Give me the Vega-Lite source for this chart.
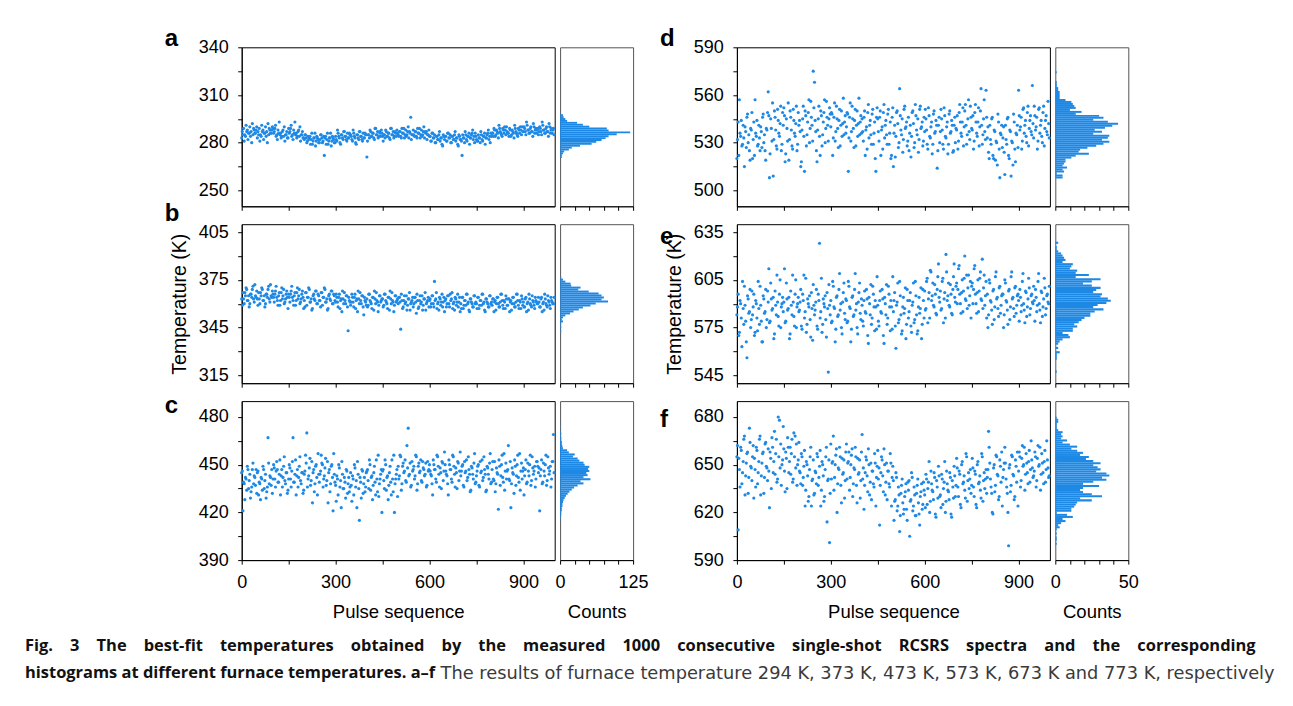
{
"$schema":"https://vega.github.io/schema/vega-lite/v6.json",
"autosize":{"type":"none"},
"padding":{"left":241.7,"top":47.3,"right":1051.3,"bottom":658.7},
"background":"#ffffff",
"datasets":{
"pts":[{
"x":[0,4,8,12,16,20,24,28,32,36,40,44,48,52,56,60,64,68,72,76,80,84,88,92,96,100,104,108,112,116,120,124,128,132,136,140,144,148,152,156,160,164,168,172,176,180,184,188,192,196,200,204,208,212,216,220,224,228,232,236,240,244,248,252,256,260,264,268,272,276,280,284,288,292,296,300,304,308,312,316,320,324,328,332,336,340,344,348,352,356,360,364,368,372,376,380,384,388,392,396,400,404,408,412,416,420,424,428,432,436,440,444,448,452,456,460,464,468,472,476,480,484,488,492,496,500,504,508,512,516,520,524,528,532,536,540,544,548,552,556,560,564,568,572,576,580,584,588,592,596,600,604,608,612,616,620,624,628,632,636,640,644,648,652,656,660,664,668,672,676,680,684,688,692,696,700,704,708,712,716,720,724,728,732,736,740,744,748,752,756,760,764,768,772,776,780,784,788,792,796,800,804,808,812,816,820,824,828,832,836,840,844,848,852,856,860,864,868,872,876,880,884,888,892,896,900,904,908,912,916,920,924,928,932,936,940,944,948,952,956,960,964,968,972,976,980,984,988,992,996,2,6,10,14,18,22,26,30,34,38,42,46,50,54,58,62,66,70,74,78,82,86,90,94,98,102,106,110,114,118,122,126,130,134,138,142,146,150,154,158,162,166,170,174,178,182,186,190,194,198,202,206,210,214,218,222,226,230,234,238,242,246,250,254,258,262,266,270,274,278,282,286,290,294,298,302,306,310,314,318,322,326,330,334,338,342,346,350,354,358,362,366,370,374,378,382,386,390,394,398,402,406,410,414,418,422,426,430,434,438,442,446,450,454,458,462,466,470,474,478,482,486,490,494,498,502,506,510,514,518,522,526,530,534,538,542,546,550,554,558,562,566,570,574,578,582,586,590,594,598,602,606,610,614,618,622,626,630,634,638,642,646,650,654,658,662,666,670,674,678,682,686,690,694,698,702,706,710,714,718,722,726,730,734,738,742,746,750,754,758,762,766,770,774,778,782,786,790,794,798,802,806,810,814,818,822,826,830,834,838,842,846,850,854,858,862,866,870,874,878,882,886,890,894,898,902,906,910,914,918,922,926,930,934,938,942,946,950,954,958,962,966,970,974,978,982,986,990,994,998],
"a":[283,285,281,284,287,282,286,284,280,285,288,286,290,287,289,285,291,288,286,290,287,292,289,286,288,289,287,291,285,288,293,286,284,288,290,285,287,283,286,289,284,282,286,285,283,287,284,281,285,283,282,285,280,284,283,279,286,281,283,278,284,282,280,285,283,281,272,284,282,279,283,286,281,283,280,284,281,286,283,279,285,282,287,284,281,283,286,285,282,288,284,280,285,283,287,284,282,286,283,285,271,285,283,287,284,286,282,289,285,283,287,284,286,281,285,288,284,286,283,289,285,287,284,286,288,285,287,284,289,286,283,288,285,290,287,296,285,288,284,287,283,286,289,285,284,287,283,286,282,285,284,281,286,283,285,280,284,282,287,283,279,285,282,284,281,286,283,280,284,282,285,281,283,278,284,282,272,283,280,285,281,284,279,283,286,282,280,284,281,285,283,287,282,284,286,283,285,288,284,286,286,284,288,285,287,283,289,286,284,288,290,285,287,286,289,284,288,286,291,287,285,289,286,288,290,287,289,285,291,288,286,290,287,292,286,289,288,285,290,287,293,288,286,289,287,284,290,288,286,289,
287,289,285,291,288,286,290,287,292,289,286,288,283,285,281,284,287,282,286,284,280,285,288,286,290,286,289,284,282,286,285,283,287,284,281,285,283,289,287,291,285,288,293,286,284,288,290,285,287,283,285,283,281,282,284,282,279,283,286,281,283,280,282,285,280,284,283,279,286,281,283,278,284,282,280,282,288,284,280,285,283,287,284,282,286,283,285,284,281,286,283,279,285,282,287,284,281,283,286,285,281,285,288,284,286,283,289,285,287,284,286,288,284,285,283,287,284,286,282,289,285,283,287,284,286,284,287,283,286,289,285,284,287,283,286,282,285,285,287,284,289,286,283,288,285,290,287,287,285,288,284,281,286,283,280,284,282,285,281,283,278,284,284,281,286,283,285,280,284,282,287,283,279,285,282,281,285,283,287,282,284,286,283,285,288,284,286,282,281,283,280,285,281,284,279,283,286,282,280,284,286,289,284,288,286,291,287,285,289,286,288,290,286,284,288,285,287,283,289,286,284,288,290,285,287,290,287,293,288,286,289,287,284,290,288,286,289,287,289,285,291,288,286,290,287,292,286,289,288,285],
"b":[363,367,360,365,369,362,358,366,364,371,361,365,368,359,363,367,370,362,365,360,366,369,363,372,364,366,361,368,364,359,367,362,370,365,360,363,368,357,364,366,371,362,365,359,367,363,369,361,366,364,362,367,359,364,369,361,356,365,363,368,360,366,362,358,367,364,370,361,363,357,366,362,368,360,365,361,364,358,366,362,355,363,367,360,365,343,362,359,366,361,364,357,363,368,360,362,365,358,364,361,363,359,366,361,357,364,368,360,362,355,365,361,363,358,366,362,360,364,356,363,367,361,359,365,362,360,364,344,362,358,365,361,356,363,367,360,362,358,364,361,366,357,362,360,365,359,363,356,361,364,362,358,365,360,374,363,357,361,364,359,366,361,355,363,360,365,358,362,367,360,356,363,361,358,364,360,364,357,362,359,366,361,355,363,360,358,365,361,357,364,359,362,366,360,356,363,361,358,365,360,359,363,361,356,364,360,358,366,362,357,361,365,359,363,355,362,360,364,358,361,366,359,362,357,363,361,358,364,360,356,363,359,365,361,357,362,360,364,358,363,355,361,366,360,358,362,359,364,361,360,
359,363,367,370,362,365,360,366,369,363,372,364,363,367,360,365,369,362,358,366,364,371,361,365,368,364,366,371,362,365,359,367,363,369,361,366,364,366,361,368,364,359,367,362,370,365,360,363,368,357,358,367,364,370,361,363,357,366,362,368,360,365,362,367,359,364,369,361,356,365,363,368,360,366,362,366,361,364,357,363,368,360,362,365,358,364,361,361,364,358,366,362,355,363,367,360,365,353,362,359,358,366,362,360,364,356,363,367,361,359,365,362,363,359,366,361,357,364,368,360,362,355,365,361,363,364,361,366,357,362,360,365,359,363,356,361,364,360,364,354,362,358,365,361,356,363,367,360,362,358,363,360,365,358,362,367,360,356,363,361,358,364,362,358,365,360,366,363,357,361,364,359,366,361,355,357,364,359,362,366,360,356,363,361,358,365,360,360,364,357,362,359,366,361,355,363,360,358,365,361,363,355,362,360,364,358,361,366,359,362,357,363,359,363,361,356,364,360,358,366,362,357,361,365,359,358,363,355,361,366,360,358,362,359,364,361,360,361,358,364,360,356,363,359,365,361,357,362,360,364],
"c":[445,421,438,442,434,447,440,429,436,451,443,437,432,446,439,428,441,449,435,444,433,467,438,442,447,441,448,436,452,439,444,431,447,442,455,438,445,434,450,441,446,467,439,453,443,436,449,440,445,432,444,456,470,441,448,437,452,445,433,449,442,457,439,446,451,436,443,454,440,426,447,438,450,421,444,437,443,431,448,440,452,435,442,429,446,438,433,445,427,441,450,436,423,444,415,439,447,432,442,436,446,440,453,434,443,437,449,431,441,456,438,444,420,447,435,450,442,428,445,439,453,433,420,441,447,449,443,455,438,451,446,440,462,473,444,436,452,447,441,456,434,449,445,453,439,448,443,451,437,446,450,444,438,453,447,441,456,449,436,445,452,440,458,446,443,431,450,447,439,455,444,448,435,451,446,443,449,437,452,446,440,455,444,434,448,441,457,439,446,450,436,445,453,442,447,433,449,444,451,438,447,441,452,438,445,422,449,443,456,439,434,451,446,462,440,423,448,444,453,437,450,442,457,446,441,448,443,453,439,446,450,437,455,444,449,441,452,445,421,447,438,451,443,456,440,448,446,436,452,469,
446,439,428,441,449,435,444,433,447,438,442,447,445,431,438,442,434,447,440,429,436,451,443,437,432,450,441,446,447,439,453,443,436,449,440,445,432,441,448,436,452,439,444,431,447,442,455,438,445,434,446,451,436,443,454,440,426,447,438,450,431,444,444,456,450,441,448,437,452,445,433,449,442,457,439,427,441,450,436,423,444,435,439,447,432,442,436,437,443,431,448,440,452,435,442,429,446,438,433,445,447,435,450,442,428,445,439,453,433,430,441,447,446,440,453,434,443,437,449,431,441,456,438,444,430,441,456,434,449,445,453,439,448,443,451,437,446,449,443,455,438,451,446,440,452,447,444,436,452,447,446,443,431,450,447,439,455,444,448,435,451,446,450,444,438,453,447,441,456,449,436,445,452,440,458,446,450,436,445,453,442,447,433,449,444,451,438,443,449,437,452,446,440,455,444,434,448,441,457,439,452,440,433,448,444,453,437,450,442,457,446,441,447,441,452,438,445,432,449,443,456,439,434,451,446,431,447,438,451,443,456,440,448,446,436,452,449,448,443,453,439,446,450,437,455,444,449,441,452,445],
"d":[520,543,557,534,528,541,515,537,546,530,525,539,549,532,522,536,544,529,533,540,527,548,535,519,538,562,508,545,531,509,550,538,526,544,534,553,529,541,547,523,539,555,532,546,528,551,536,542,525,549,544,515,538,553,512,547,535,549,530,556,541,575,568,537,518,545,534,550,528,543,557,539,546,531,552,540,548,533,555,537,545,527,551,541,534,558,543,536,549,512,546,531,553,539,544,528,550,542,535,547,545,531,550,538,526,554,541,535,548,529,543,512,552,537,546,522,540,549,533,544,529,551,536,520,546,515,541,534,550,527,564,538,545,532,553,540,528,546,536,521,549,542,530,547,535,524,551,539,543,531,537,545,529,552,534,540,523,548,536,544,514,541,530,551,538,526,547,533,543,529,550,537,541,525,546,539,547,531,554,536,543,528,550,541,535,557,532,546,538,526,549,543,534,552,540,564,529,545,537,563,533,524,541,529,546,520,537,531,516,543,508,535,527,540,510,532,545,522,538,509,530,548,526,536,541,563,538,546,531,552,541,534,549,528,544,537,566,533,547,540,526,551,536,544,530,553,539,547,535,542,
532,522,536,544,529,533,540,527,548,535,519,538,520,543,557,534,528,541,525,537,546,530,525,539,549,547,523,539,555,532,546,528,551,536,542,525,549,552,518,545,531,519,550,538,526,544,534,553,529,541,537,518,545,534,550,528,543,557,539,546,531,552,544,525,538,553,522,547,535,549,530,556,541,545,548,549,522,546,531,553,539,544,528,550,542,535,547,540,548,533,555,537,545,527,551,541,534,558,543,536,537,546,522,540,549,533,544,529,551,536,520,546,545,531,550,538,526,554,541,535,548,529,543,522,552,536,521,549,542,530,547,535,524,551,539,543,531,525,541,534,550,527,554,538,545,532,553,540,528,546,551,538,526,547,533,543,529,550,537,541,525,546,537,545,529,552,534,540,523,548,536,544,524,541,530,538,526,549,543,534,552,540,554,529,545,537,553,539,547,531,554,536,543,528,550,541,535,557,532,546,540,520,532,545,522,538,519,530,548,526,536,541,533,524,541,529,546,520,537,531,516,543,518,535,527,547,540,526,551,536,544,530,553,539,547,535,542,553,538,546,531,552,541,534,549,528,544,537,556,533],
"e":[583,596,572,590,563,587,601,579,556,593,585,575,598,588,570,592,581,604,577,589,566,595,584,599,580,591,578,603,586,594,571,589,608,582,596,575,590,585,612,579,593,587,568,598,583,591,576,605,588,594,586,599,574,592,581,606,577,590,595,569,587,602,583,591,576,596,628,585,572,593,588,580,597,547,589,592,579,601,587,574,595,583,609,590,571,597,584,593,578,604,588,566,594,582,599,586,575,591,603,580,589,576,598,584,593,565,590,602,581,596,573,588,607,579,592,585,599,570,594,583,577,601,588,592,574,585,597,562,591,578,604,583,573,594,587,568,599,581,592,576,589,603,580,595,571,588,584,600,577,592,598,587,606,593,581,610,595,589,602,584,599,615,591,586,604,578,597,621,592,603,588,596,583,607,594,601,590,612,596,584,605,598,620,592,587,608,595,581,603,599,614,590,597,585,606,593,618,600,589,604,596,583,603,591,577,599,588,610,594,582,601,589,596,575,605,592,586,598,580,607,593,587,600,584,595,592,599,585,604,590,578,597,588,606,583,595,591,601,579,594,589,609,586,598,582,593,600,587,596,590,
588,570,592,581,604,577,589,566,595,584,599,580,583,596,572,590,573,587,601,579,566,593,585,575,598,612,579,593,587,568,598,583,591,576,605,588,594,591,578,603,586,594,571,589,608,582,596,575,590,585,591,576,596,608,585,572,593,588,580,597,567,589,586,599,574,592,581,606,577,590,595,569,587,602,583,578,604,588,566,594,582,599,586,575,591,603,580,592,579,601,587,574,595,583,609,590,571,597,584,593,579,592,585,599,570,594,583,577,601,588,592,574,589,576,598,584,593,565,590,602,581,596,573,588,607,592,576,589,603,580,595,571,588,584,600,577,592,585,597,572,591,578,604,583,573,594,587,568,599,581,586,604,578,597,611,592,603,588,596,583,607,594,598,587,606,593,581,610,595,589,602,584,599,615,591,603,599,614,590,597,585,606,593,608,600,589,604,601,590,612,596,584,605,598,610,592,587,608,595,581,575,605,592,586,598,580,607,593,587,600,584,595,596,583,603,591,577,599,588,610,594,582,601,589,596,579,594,589,609,586,598,582,593,600,587,596,590,592,599,585,604,590,578,597,588,606,583,595,591,601],
"f":[655,609,647,661,638,652,668,643,657,632,673,649,640,662,654,636,659,645,666,631,651,658,642,664,648,660,623,654,667,645,671,657,639,680,678,663,650,674,646,658,635,661,652,644,666,641,655,648,637,653,646,638,655,642,659,634,650,627,647,661,640,653,632,645,657,637,649,624,652,643,630,655,614,641,601,663,651,668,642,656,620,648,661,637,654,645,629,658,641,652,634,650,660,638,647,655,626,644,653,640,669,648,637,655,643,660,631,651,646,638,657,624,649,641,612,645,653,633,650,639,628,646,636,651,642,640,627,645,621,636,608,632,641,619,630,638,615,634,605,628,642,624,631,618,637,626,612,633,622,639,631,644,625,639,620,646,634,628,642,617,636,649,630,623,641,635,652,627,638,633,645,619,640,629,643,637,648,630,644,623,652,639,634,657,627,645,641,632,654,636,646,625,650,638,643,629,655,640,635,647,642,671,651,636,620,648,633,656,644,628,653,639,624,647,661,641,632,599,650,637,655,643,630,649,658,646,655,640,662,650,634,657,645,652,639,665,648,643,658,636,654,649,661,644,651,638,659,647,653,642,
662,654,636,659,645,666,631,651,658,642,664,648,655,629,647,661,638,652,668,643,657,632,663,649,640,646,658,635,661,652,644,666,641,655,648,637,653,660,633,654,667,645,661,657,639,670,668,663,650,664,645,657,637,649,624,652,643,630,655,624,641,631,646,638,655,642,659,634,650,627,647,661,640,653,632,641,652,634,650,660,638,647,655,626,644,653,640,663,651,658,642,656,630,648,661,637,654,645,629,658,641,622,645,653,633,650,639,628,646,636,651,642,659,648,637,655,643,660,631,651,646,638,657,624,649,615,628,642,624,631,618,637,626,622,633,622,639,640,627,645,621,636,618,632,641,619,630,638,625,634,623,641,635,652,627,638,633,645,619,640,629,643,631,644,625,639,620,646,634,628,642,617,636,649,630,654,636,646,625,650,638,643,629,655,640,635,647,637,648,630,644,623,652,639,634,657,627,645,641,632,647,661,641,632,619,650,637,655,643,630,649,658,642,651,651,636,620,648,633,656,644,628,653,639,624,658,636,654,649,661,644,651,638,659,647,653,642,646,655,640,662,650,634,657,645,652,639,665,648,643]
}],
"hist":[
{"p":"a","t1":[297.9,296.7,295.5,294.3,293.1,291.9,290.7,289.5,288.3,287.1,285.9,284.7,283.5,282.3,281.1,279.9,278.7,277.5,276.3,275.1,273.9,272.7,271.5],"t0":[296.7,295.5,294.3,293.1,291.9,290.7,289.5,288.3,287.1,285.9,284.7,283.5,282.3,281.1,279.9,278.7,277.5,276.3,275.1,273.9,272.7,271.5,270.3],"n":[5,6,9,12,29,39,50,80,83,120,97,83,78,71,62,54,34,20,15,7,5,3,3]},
{"p":"b","t1":[377,375.75,374.5,373.25,372,370.75,369.5,368.25,367,365.75,364.5,363.25,362,360.75,359.5,358.25,357,355.75,354.5,353.25,352,350.75,349.5,348.25,347,345.75,344.5,343.25],"t0":[375.75,374.5,373.25,372,370.75,369.5,368.25,367,365.75,364.5,363.25,362,360.75,359.5,358.25,357,355.75,354.5,353.25,352,350.75,349.5,348.25,347,345.75,344.5,343.25,342],"n":[2,5,9,18,19,35,31,49,66,71,75,71,82,61,52,39,32,23,17,9,5,3,5,2,1,2,0,2]},
{"p":"c","t1":[474,472.7,471.4,470.1,468.8,467.5,466.2,464.9,463.6,462.3,461,459.7,458.4,457.1,455.8,454.5,453.2,451.9,450.6,449.3,448,446.7,445.4,444.1,442.8,441.5,440.2,438.9,437.6,436.3,435,433.7,432.4,431.1,429.8,428.5,427.2,425.9,424.6,423.3,422,420.7,419.4,418.1,416.8],"t0":[472.7,471.4,470.1,468.8,467.5,466.2,464.9,463.6,462.3,461,459.7,458.4,457.1,455.8,454.5,453.2,451.9,450.6,449.3,448,446.7,445.4,444.1,442.8,441.5,440.2,438.9,437.6,436.3,435,433.7,432.4,431.1,429.8,428.5,427.2,425.9,424.6,423.3,422,420.7,419.4,418.1,416.8,415.5],"n":[1,0,1,2,1,2,2,3,3,4,5,12,15,25,22,30,33,40,42,50,48,50,45,47,40,52,35,40,30,24,20,16,13,10,8,6,5,4,4,3,3,2,2,1,1]},
{"p":"d","t1":[575,573.75,572.5,571.25,570,568.75,567.5,566.25,565,563.75,562.5,561.25,560,558.75,557.5,556.25,555,553.75,552.5,551.25,550,548.75,547.5,546.25,545,543.75,542.5,541.25,540,538.75,537.5,536.25,535,533.75,532.5,531.25,530,528.75,527.5,526.25,525,523.75,522.5,521.25,520,518.75,517.5,516.25,515,513.75,512.5,511.25,510,508.75],"t0":[573.75,572.5,571.25,570,568.75,567.5,566.25,565,563.75,562.5,561.25,560,558.75,557.5,556.25,555,553.75,552.5,551.25,550,548.75,547.5,546.25,545,543.75,542.5,541.25,540,538.75,537.5,536.25,535,533.75,532.5,531.25,530,528.75,527.5,526.25,525,523.75,522.5,521.25,520,518.75,517.5,516.25,515,513.75,512.5,511.25,510,508.75,507.5],"n":[1,0,0,0,0,1,1,1,2,2,3,3,3,3,7,11,12,13,14,10,18,14,30,33,26,36,43,39,34,27,32,26,37,36,32,37,33,28,22,17,16,23,14,11,7,7,6,5,8,5,6,1,5,5]},
{"p":"e","t1":[629,627.65,626.3,624.95,623.6,622.25,620.9,619.55,618.2,616.85,615.5,614.15,612.8,611.45,610.1,608.75,607.4,606.05,604.7,603.35,602,600.65,599.3,597.95,596.6,595.25,593.9,592.55,591.2,589.85,588.5,587.15,585.8,584.45,583.1,581.75,580.4,579.05,577.7,576.35,575,573.65,572.3,570.95,569.6,568.25,566.9,565.55,564.2,562.85,561.5,560.15,558.8,557.45,556.1,554.75,553.4,552.05,550.7,549.35,548],"t0":[627.65,626.3,624.95,623.6,622.25,620.9,619.55,618.2,616.85,615.5,614.15,612.8,611.45,610.1,608.75,607.4,606.05,604.7,603.35,602,600.65,599.3,597.95,596.6,595.25,593.9,592.55,591.2,589.85,588.5,587.15,585.8,584.45,583.1,581.75,580.4,579.05,577.7,576.35,575,573.65,572.3,570.95,569.6,568.25,566.9,565.55,564.2,562.85,561.5,560.15,558.8,557.45,556.1,554.75,553.4,552.05,550.7,549.35,548,546.65],"n":[2,0,1,1,2,4,5,6,7,5,12,11,10,15,14,23,14,31,25,19,25,31,28,26,32,31,36,38,35,29,26,33,27,24,24,20,18,16,13,15,12,12,5,9,10,5,3,2,0,2,0,3,1,1,1,0,0,0,0,0,1]},
{"p":"f","t1":[680.2,678.9,677.6,676.3,675,673.7,672.4,671.1,669.8,668.5,667.2,665.9,664.6,663.3,662,660.7,659.4,658.1,656.8,655.5,654.2,652.9,651.6,650.3,649,647.7,646.4,645.1,643.8,642.5,641.2,639.9,638.6,637.3,636,634.7,633.4,632.1,630.8,629.5,628.2,626.9,625.6,624.3,623,621.7,620.4,619.1,617.8,616.5,615.2,613.9,612.6,611.3,610,608.7,607.4,606.1,604.8,603.5,602.2,600.9],"t0":[678.9,677.6,676.3,675,673.7,672.4,671.1,669.8,668.5,667.2,665.9,664.6,663.3,662,660.7,659.4,658.1,656.8,655.5,654.2,652.9,651.6,650.3,649,647.7,646.4,645.1,643.8,642.5,641.2,639.9,638.6,637.3,636,634.7,633.4,632.1,630.8,629.5,628.2,626.9,625.6,624.3,623,621.7,620.4,619.1,617.8,616.5,615.2,613.9,612.6,611.3,610,608.7,607.4,606.1,604.8,603.5,602.2,600.9,599.6],"n":[1,2,2,1,1,1,2,5,4,5,4,8,5,10,15,11,15,19,17,23,21,26,31,26,29,31,28,35,37,32,35,26,19,30,19,17,19,25,32,17,25,15,14,13,11,11,1,8,12,5,7,4,2,3,1,0,1,0,1,1,0,1]}
]
},
"columns":5,
"spacing":{"row":17.9,"column":5.4},
"bounds":"flush",
"concat":[
{"width":313,"height":159,"data":{"name":"pts"},"transform":[{"flatten":["x","a","b","c","d","e","f"]}],
 "title":{"text":"a","anchor":"start","frame":"group","dx":-77,"offset":-32.1,"fontSize":24,"fontWeight":"bold","baseline":"alphabetic","font":"Liberation Sans","color":"#000"},
 "mark":{"type":"circle","size":10,"opacity":1,"color":"#1e88e5"},
 "encoding":{"x":{"field":"x","type":"quantitative","scale":{"domain":[0,1000],"nice":false},"axis":{"values":[0,150,300,450,600,750,900],"labels":false,"title":null}},
  "y":{"field":"a","type":"quantitative","scale":{"domain":[240,340],"nice":false,"zero":false},"axis":{"values":[250,265,280,295,310,325,340],"labelExpr":"datum.value % 30 == 10 ? datum.label : ''","title":null}}}},
{"width":73,"height":159,"data":{"name":"hist"},"transform":[{"filter":"datum.p == 'a'"},{"flatten":["t1","t0","n"]}],"view":{"stroke":"#555"},
 "mark":{"type":"rect","color":"#1e88e5"},
 "encoding":{"y":{"field":"t1","type":"quantitative","scale":{"domain":[240,340],"nice":false,"zero":false},"axis":null},"y2":{"field":"t0"},
  "x":{"field":"n","type":"quantitative","scale":{"domain":[0,125],"nice":false},"axis":{"values":[0,25,50,75,100,125],"labels":false,"title":null}},"x2":{"datum":0}}},
{"width":92.8,"height":159,"data":{"values":[{"k":1}]},"mark":{"type":"point","opacity":0},"view":{"stroke":null}},
{"width":313,"height":159,"data":{"name":"pts"},"transform":[{"flatten":["x","a","b","c","d","e","f"]}],
 "title":{"text":"d","anchor":"start","frame":"group","dx":-77,"offset":-31.7,"fontSize":24,"fontWeight":"bold","baseline":"alphabetic","font":"Liberation Sans","color":"#000"},
 "mark":{"type":"circle","size":10,"opacity":1,"color":"#1e88e5"},
 "encoding":{"x":{"field":"x","type":"quantitative","scale":{"domain":[0,1000],"nice":false},"axis":{"values":[0,150,300,450,600,750,900],"labels":false,"title":null}},
  "y":{"field":"d","type":"quantitative","scale":{"domain":[490,590],"nice":false,"zero":false},"axis":{"values":[500,515,530,545,560,575,590],"labelExpr":"datum.value % 30 == 20 ? datum.label : ''","title":null}}}},
{"width":73,"height":159,"data":{"name":"hist"},"transform":[{"filter":"datum.p == 'd'"},{"flatten":["t1","t0","n"]}],"view":{"stroke":"#555"},
 "mark":{"type":"rect","color":"#1e88e5"},
 "encoding":{"y":{"field":"t1","type":"quantitative","scale":{"domain":[490,590],"nice":false,"zero":false},"axis":null},"y2":{"field":"t0"},
  "x":{"field":"n","type":"quantitative","scale":{"domain":[0,50],"nice":false},"axis":{"values":[0,10,20,30,40,50],"labels":false,"title":null}},"x2":{"datum":0}}},
{"width":313,"height":159,"data":{"name":"pts"},"transform":[{"flatten":["x","a","b","c","d","e","f"]}],
 "title":{"text":"b","anchor":"start","frame":"group","dx":-77,"offset":-21.8,"fontSize":24,"fontWeight":"bold","baseline":"alphabetic","font":"Liberation Sans","color":"#000"},
 "mark":{"type":"circle","size":10,"opacity":1,"color":"#1e88e5"},
 "encoding":{"x":{"field":"x","type":"quantitative","scale":{"domain":[0,1000],"nice":false},"axis":{"values":[0,150,300,450,600,750,900],"labels":false,"title":null}},
  "y":{"field":"b","type":"quantitative","scale":{"domain":[310,410],"nice":false,"zero":false},"axis":{"values":[315,330,345,360,375,390,405],"labelExpr":"datum.value % 30 == 15 ? datum.label : ''","title":"Temperature (K)"}}}},
{"width":73,"height":159,"data":{"name":"hist"},"transform":[{"filter":"datum.p == 'b'"},{"flatten":["t1","t0","n"]}],"view":{"stroke":"#555"},
 "mark":{"type":"rect","color":"#1e88e5"},
 "encoding":{"y":{"field":"t1","type":"quantitative","scale":{"domain":[310,410],"nice":false,"zero":false},"axis":null},"y2":{"field":"t0"},
  "x":{"field":"n","type":"quantitative","scale":{"domain":[0,125],"nice":false},"axis":{"values":[0,25,50,75,100,125],"labels":false,"title":null}},"x2":{"datum":0}}},
{"width":92.8,"height":159,"data":{"values":[{"k":1}]},"mark":{"type":"point","opacity":0},"view":{"stroke":null}},
{"width":313,"height":159,"data":{"name":"pts"},"transform":[{"flatten":["x","a","b","c","d","e","f"]}],
 "title":{"text":"e","anchor":"start","frame":"group","dx":-77,"offset":-44.7,"fontSize":24,"fontWeight":"bold","baseline":"alphabetic","font":"Liberation Sans","color":"#000"},
 "mark":{"type":"circle","size":10,"opacity":1,"color":"#1e88e5"},
 "encoding":{"x":{"field":"x","type":"quantitative","scale":{"domain":[0,1000],"nice":false},"axis":{"values":[0,150,300,450,600,750,900],"labels":false,"title":null}},
  "y":{"field":"e","type":"quantitative","scale":{"domain":[540,640],"nice":false,"zero":false},"axis":{"values":[545,560,575,590,605,620,635],"labelExpr":"datum.value % 30 == 5 ? datum.label : ''","title":"Temperature (K)"}}}},
{"width":73,"height":159,"data":{"name":"hist"},"transform":[{"filter":"datum.p == 'e'"},{"flatten":["t1","t0","n"]}],"view":{"stroke":"#555"},
 "mark":{"type":"rect","color":"#1e88e5"},
 "encoding":{"y":{"field":"t1","type":"quantitative","scale":{"domain":[540,640],"nice":false,"zero":false},"axis":null},"y2":{"field":"t0"},
  "x":{"field":"n","type":"quantitative","scale":{"domain":[0,50],"nice":false},"axis":{"values":[0,10,20,30,40,50],"labels":false,"title":null}},"x2":{"datum":0}}},
{"width":313,"height":159,"data":{"name":"pts"},"transform":[{"flatten":["x","a","b","c","d","e","f"]}],
 "title":{"text":"c","anchor":"start","frame":"group","dx":-77,"offset":-36,"fontSize":24,"fontWeight":"bold","baseline":"alphabetic","font":"Liberation Sans","color":"#000"},
 "mark":{"type":"circle","size":10,"opacity":1,"color":"#1e88e5"},
 "encoding":{"x":{"field":"x","type":"quantitative","scale":{"domain":[0,1000],"nice":false},"axis":{"values":[0,150,300,450,600,750,900],"labelExpr":"datum.value % 300 == 0 ? datum.label : ''","title":"Pulse sequence"}},
  "y":{"field":"c","type":"quantitative","scale":{"domain":[390,490],"nice":false,"zero":false},"axis":{"values":[390,405,420,435,450,465,480],"labelExpr":"datum.value % 30 == 0 ? datum.label : ''","title":null}}}},
{"width":73,"height":159,"data":{"name":"hist"},"transform":[{"filter":"datum.p == 'c'"},{"flatten":["t1","t0","n"]}],"view":{"stroke":"#555"},
 "title":{"text":"The results of furnace temperature 294 K, 373 K, 473 K, 573 K, 673 K and 773 K, respectively","orient":"bottom","anchor":"start","frame":"group","dx":-119.5,"offset":44,"font":"DejaVu Sans","fontSize":17.8,"fontWeight":"normal","color":"#3a3a3a"},
 "mark":{"type":"rect","color":"#1e88e5"},
 "encoding":{"y":{"field":"t1","type":"quantitative","scale":{"domain":[390,490],"nice":false,"zero":false},"axis":null},"y2":{"field":"t0"},
  "x":{"field":"n","type":"quantitative","scale":{"domain":[0,125],"nice":false},"axis":{"values":[0,25,50,75,100,125],"labelExpr":"datum.value == 0 || datum.value == 125 ? datum.label : ''","title":"Counts"}},"x2":{"datum":0}}},
{"width":92.8,"height":159,"data":{"values":[{"k":1}]},"mark":{"type":"point","opacity":0},"view":{"stroke":null},
 "title":{"text":["Fig. \u00a0\u00a0\u00a03 \u00a0\u00a0\u00a0The \u00a0\u00a0\u00a0best-fit \u00a0\u00a0\u00a0temperatures \u00a0\u00a0\u00a0obtained \u00a0\u00a0\u00a0by \u00a0\u00a0\u00a0the \u00a0\u00a0\u00a0measured \u00a0\u00a0\u00a01000 \u00a0\u00a0\u00a0consecutive \u00a0\u00a0\u00a0single-shot \u00a0\u00a0\u00a0RCSRS \u00a0\u00a0\u00a0spectra \u00a0\u00a0\u00a0and \u00a0\u00a0\u00a0the \u00a0\u00a0\u00a0corresponding","histograms at different furnace temperatures. a–f"],"orient":"bottom","anchor":"start","frame":"group","dx":-613.5,"offset":78,"font":"Open Sans","fontSize":16.45,"fontWeight":"bold","color":"#111111","lineHeight":27}},
{"width":313,"height":159,"data":{"name":"pts"},"transform":[{"flatten":["x","a","b","c","d","e","f"]}],
 "title":{"text":"f","anchor":"start","frame":"group","dx":-77,"offset":-50,"fontSize":24,"fontWeight":"bold","baseline":"alphabetic","font":"Liberation Sans","color":"#000"},
 "mark":{"type":"circle","size":10,"opacity":1,"color":"#1e88e5"},
 "encoding":{"x":{"field":"x","type":"quantitative","scale":{"domain":[0,1000],"nice":false},"axis":{"values":[0,150,300,450,600,750,900],"labelExpr":"datum.value % 300 == 0 ? datum.label : ''","title":"Pulse sequence"}},
  "y":{"field":"f","type":"quantitative","scale":{"domain":[590,690],"nice":false,"zero":false},"axis":{"values":[590,605,620,635,650,665,680],"labelExpr":"datum.value % 30 == 20 ? datum.label : ''","title":null}}}},
{"width":73,"height":159,"data":{"name":"hist"},"transform":[{"filter":"datum.p == 'f'"},{"flatten":["t1","t0","n"]}],"view":{"stroke":"#555"},
 "mark":{"type":"rect","color":"#1e88e5"},
 "encoding":{"y":{"field":"t1","type":"quantitative","scale":{"domain":[590,690],"nice":false,"zero":false},"axis":null},"y2":{"field":"t0"},
  "x":{"field":"n","type":"quantitative","scale":{"domain":[0,50],"nice":false},"axis":{"values":[0,10,20,30,40,50],"labelExpr":"datum.value == 0 || datum.value == 50 ? datum.label : ''","title":"Counts"}},"x2":{"datum":0}}}
],
"config":{
 "font":"Liberation Sans",
 "view":{"stroke":"#000","strokeWidth":1},
 "axis":{"grid":false,"labelFont":"Liberation Sans","labelFontSize":18,"labelColor":"#000","titleFont":"Liberation Sans","titleFontSize":18.5,"titleFontWeight":"normal","titleColor":"#000","tickColor":"#000","tickSize":4,"tickWidth":1,"domainColor":"#000","domainWidth":1,"labelPadding":9.5,"labelOverlap":false,"labelFlush":false,"titlePadding":11},
 "axisY":{"titlePadding":9,"titleFontSize":19.5}
}
}
